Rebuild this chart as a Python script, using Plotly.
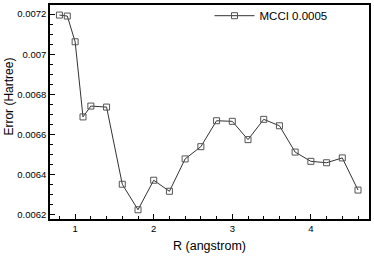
import plotly.graph_objects as go

r_vals = [0.8, 0.9, 1.0, 1.1, 1.2, 1.4, 1.6, 1.8, 2.0, 2.2, 2.4, 2.6, 2.8, 3.0,
          3.2, 3.4, 3.6, 3.8, 4.0, 4.2, 4.4, 4.6]
err_vals = [0.007195, 0.007190, 0.007062, 0.006688, 0.006742, 0.006737,
            0.006353, 0.006226, 0.006373, 0.006318, 0.006479, 0.006540,
            0.006669, 0.006666, 0.006575, 0.006676, 0.006644, 0.006513,
            0.006467, 0.006460, 0.006484, 0.006324]
series_name = "MCCI 0.0005"

x_tickvals = [1, 2, 3, 4]
x_ticktext = ["1", "2", "3", "4"]
y_tickvals = [0.0062, 0.0064, 0.0066, 0.0068, 0.0070, 0.0072]
y_ticktext = ["0.0062", "0.0064", "0.0066", "0.0068", "0.007", "0.0072"]

x_title = "R (angstrom)"
y_title = "Error (Hartree)"

font_family = "Liberation Sans, Arial, Helvetica, sans-serif"

fig = go.Figure()
fig.add_trace(go.Scatter(
    x=r_vals, y=err_vals, name=series_name, mode="lines+markers",
    line=dict(color="#333333", width=1),
    marker=dict(symbol="square-open", size=6, color="#555555",
                line=dict(width=1, color="#555555")),
))

fig.add_annotation(
    text=y_title, textangle=-90, xref="paper", yref="paper",
    x=-0.13, y=0.57, xanchor="center", yanchor="middle", showarrow=False,
    font=dict(size=12, family=font_family, color="black"),
)

fig.update_layout(
    width=374, height=264,
    margin=dict(l=50, r=5, t=5, b=45, autoexpand=False),
    paper_bgcolor="white", plot_bgcolor="white",
    font=dict(family=font_family, color="black", size=9.5),
    showlegend=True,
    legend=dict(x=0.5, y=0.95, xanchor="left", yanchor="middle",
                bgcolor="rgba(0,0,0,0)", font=dict(size=11.5),
                itemwidth=40, borderwidth=0),
    xaxis=dict(
        range=[0.68, 4.74], tickvals=x_tickvals, ticktext=x_ticktext,
        automargin=False,
        showgrid=False, zeroline=False, showline=True, linecolor="black",
        linewidth=1.5, mirror=True, ticks="inside", ticklen=5, tickwidth=1,
        tickcolor="black", tickfont=dict(size=9.5),
        minor=dict(dtick=0.2, tick0=0, ticks="inside", ticklen=3,
                   tickcolor="black", tickwidth=1, showgrid=False),
        title=dict(text=x_title, font=dict(size=12.5), standoff=8),
    ),
    yaxis=dict(
        range=[0.00618, 0.007245], tickvals=y_tickvals, ticktext=y_ticktext,
        automargin=False,
        showgrid=False, zeroline=False, showline=True, linecolor="black",
        linewidth=1.5, mirror=True, ticks="inside", ticklen=5, tickwidth=1,
        tickcolor="black", tickfont=dict(size=9.5),
        minor=dict(dtick=0.00005, tick0=0, ticks="inside", ticklen=3,
                   tickcolor="black", tickwidth=1, showgrid=False),
    ),
)

fig.write_html("out.html", config={"displayModeBar": False},
               post_script="document.body.style.margin='0px';")
